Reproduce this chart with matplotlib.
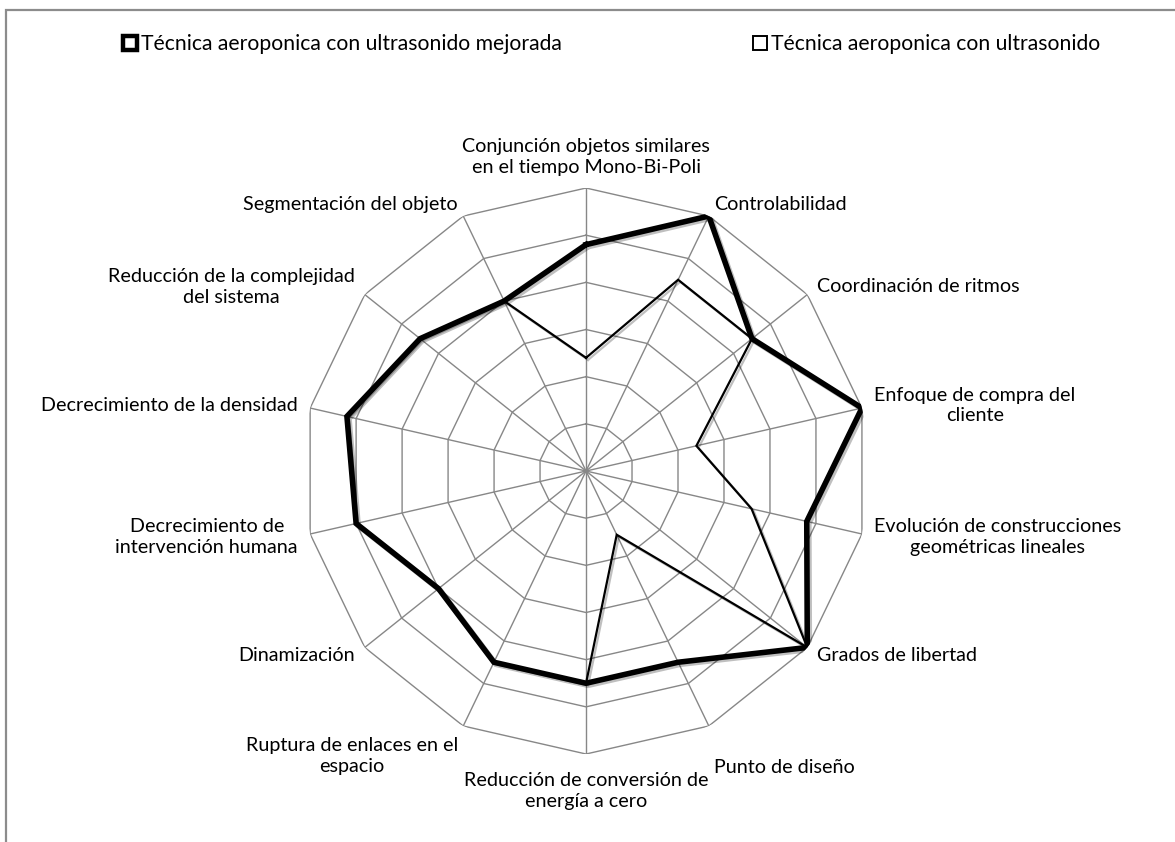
import numpy as np
import matplotlib.pyplot as plt
import matplotlib.patheffects as pe
from matplotlib.lines import Line2D
from matplotlib.patches import Rectangle

plt.rcParams['font.family'] = ['Lato', 'DejaVu Sans']

categorias = [
    "Conjunción objetos similares\nen el tiempo Mono-Bi-Poli",
    "Controlabilidad",
    "Coordinación de ritmos",
    "Enfoque de compra del\ncliente",
    "Evolución de construcciones\ngeométricas lineales",
    "Grados de libertad",
    "Punto de diseño",
    "Reducción de conversión de\nenergía a cero",
    "Ruptura de enlaces en el\nespacio",
    "Dinamización",
    "Decrecimiento de\nintervención humana",
    "Decrecimiento de la densidad",
    "Reducción de la complejidad\ndel sistema",
    "Segmentación del objeto",
]
mejorada = [4.8, 6.0, 4.5, 6.0, 4.8, 6.0, 4.5, 4.5, 4.5, 4.0, 5.0, 5.2, 4.5, 4.0]
ultrasonido = [2.4, 4.5, 4.5, 2.4, 3.6, 6.0, 1.5, 4.5, 4.5, 4.0, 5.0, 5.2, 4.5, 4.0]
series = ["Técnica aeroponica con ultrasonido mejorada", "Técnica aeroponica con ultrasonido"]
niveles = [1, 2, 3, 4, 5, 6]

n = len(categorias)
ang = np.linspace(0, 2 * np.pi, n, endpoint=False)
ang_c = np.append(ang, ang[0])
rmax = niveles[-1]

fig = plt.figure(figsize=(11.75, 8.42), dpi=100)
ax = fig.add_axes([0.2579, 0.1045, 0.4817, 0.6722], projection='polar')
ax.set_theta_zero_location('N')
ax.set_theta_direction(-1)
ax.set_ylim(0, rmax)
ax.grid(False)
ax.set_xticks([])
ax.set_yticks([])
ax.spines['polar'].set_visible(False)
ax.patch.set_alpha(0)

gris = '#878787'
# anillos poligonales y radios
for nv in niveles:
    ax.plot(ang_c, [nv] * (n + 1), color=gris, lw=1.0, zorder=1)
for a in ang:
    ax.plot([a, a], [0, rmax], color=gris, lw=1.0, zorder=1)

sombra = [pe.SimpleLineShadow(offset=(1.5, -1.5), alpha=0.25), pe.Normal()]
ax.plot(ang_c, mejorada + mejorada[:1], color='black', lw=4.0, zorder=3,
        path_effects=sombra, solid_joinstyle='miter')
ax.plot(ang_c, ultrasonido + ultrasonido[:1], color='black', lw=1.6, zorder=4,
        path_effects=sombra, solid_joinstyle='miter')

# etiquetas de categoria
ajuste = {6: -16, 7: -4}  # desplazamiento vertical extra (puntos)
for k, (a, txt) in enumerate(zip(ang, categorias)):
    s, c = np.sin(a), np.cos(a)
    ha = 'left' if s > 0.1 else ('right' if s < -0.1 else 'center')
    va = 'bottom' if c > 0.95 else ('top' if c < -0.7 else 'center')
    ax.annotate(txt, xy=(a, rmax), xytext=(9 * s, 9 * c + ajuste.get(k, 0)),
                textcoords='offset points', ha=ha, va=va, multialignment='center',
                fontsize=14.2, linespacing=1.25, color='black', annotation_clip=False)

handles = [
    Line2D([], [], ls='none', marker='s', ms=10, mfc='white', mec='black', mew=3.2),
    Line2D([], [], ls='none', marker='s', ms=10, mfc='white', mec='black', mew=1.4),
]
fig.legend(handles, series, loc='center', bbox_to_anchor=(611 / 1175, 1 - 44 / 842),
           ncol=2, frameon=False, fontsize=15.2, handletextpad=0.1, columnspacing=9.0,
           handlelength=0.8)

fig.add_artist(Rectangle((6 / 1175, -0.1), 1.2, 1.1 - 10 / 842, transform=fig.transFigure,
                         fill=False, edgecolor='#8c8c8c', lw=1.6, clip_on=False))

fig.savefig('out.png', dpi=100, facecolor='white')
